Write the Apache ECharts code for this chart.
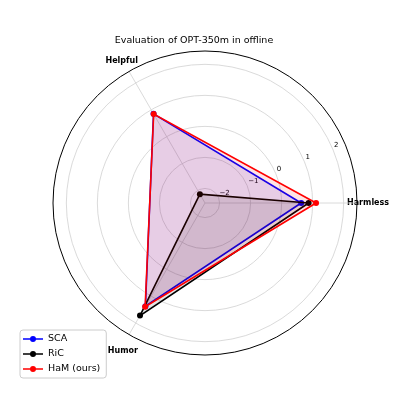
<!DOCTYPE html>
<html>
<head>
<meta charset="utf-8">
<script src="https://cdn.jsdelivr.net/npm/echarts@6/dist/echarts.min.js"></script>
<style>html,body{margin:0;padding:0;background:#fff;}#c{width:400px;height:400px;}</style>
</head>
<body>
<div id="c"></div>
<script>
const categories = ['Harmless', 'Helpful', 'Humor'];
const seriesNames = ['SCA', 'RiC', 'HaM (ours)'];
const sca = [0.63, 0.85, 1.37];
const ric = [0.87, -2.14, 1.72];
const ham = [1.11, 0.84, 1.39];
const radialTicks = [-2, -1, 0, 1, 2];
const rMin = -2.47, rMax = 2.43;

const CX = 205, CY = 203, R = 152;
const k = R / (rMax - rMin);
const FONT = 'DejaVu Sans';

// padding that moves a label by (dx, dy) whatever its alignment
function shift(dx, dy) { return [dy, -dx, -dy, dx]; }
const catShift = [shift(-22, 0), shift(15, 4), shift(15, 2)];

const colors = ['#0000ff', '#000000', '#ff0000'];
const allVals = [sca, ric, ham];
const legendIcon = 'path://M0,2.25H7.2V3.75H0Z M12.8,2.25H20V3.75H12.8Z M7,3A3,3 0 1,1 13,3A3,3 0 1,1 7,3Z';

const chart = echarts.init(document.getElementById('c'), null, {renderer: 'canvas'});
chart.setOption({
  animation: false,
  backgroundColor: '#fff',
  title: {
    text: 'Evaluation of OPT-350m in offline',
    left: 194, top: 36, textAlign: 'center', padding: 0,
    textStyle: {fontFamily: FONT, fontSize: 9.5, fontWeight: 'normal', color: '#000'}
  },
  legend: {
    orient: 'vertical', left: 20, top: 330,
    itemWidth: 20, itemHeight: 6, itemGap: 5,
    padding: [4, 6, 4, 3],
    borderColor: '#cccccc', borderWidth: 1, borderRadius: 3,
    textStyle: {fontFamily: FONT, fontSize: 9.5, color: '#000'},
    data: seriesNames.map(n => ({name: n, icon: legendIcon}))
  },
  polar: [
    {center: [CX, CY], radius: R},
    {center: [CX, CY], radius: [(radialTicks[0] - rMin) * k, (radialTicks[radialTicks.length - 1] - rMin) * k]},
    {center: [CX, CY], radius: R}
  ],
  angleAxis: [
    {
      polarIndex: 0, type: 'category', startAngle: 0, clockwise: false,
      data: categories.map((n, i) => ({value: n, textStyle: {padding: catShift[i]}})),
      boundaryGap: false,
      axisLine: {show: false},
      axisTick: {show: false},
      splitLine: {show: true, lineStyle: {color: '#d0d0d0', width: 0.8}},
      axisLabel: {margin: 12, fontFamily: FONT, fontSize: 8, fontWeight: 'bold', color: '#000'}
    },
    {
      polarIndex: 1, type: 'value', min: 0, max: 360, startAngle: 22.5, clockwise: false,
      show: false
    },
    {
      polarIndex: 2, type: 'value', min: 0, max: 360, startAngle: 0, clockwise: false,
      axisLine: {show: true, lineStyle: {color: '#000', width: 1}},
      axisTick: {show: false}, axisLabel: {show: false}, splitLine: {show: false}
    }
  ],
  radiusAxis: [
    {polarIndex: 0, type: 'value', min: rMin, max: rMax, show: false},
    {
      polarIndex: 1, type: 'value', min: radialTicks[0], max: radialTicks[radialTicks.length - 1], interval: 1,
      axisLine: {show: false}, axisTick: {show: false},
      splitLine: {show: true, lineStyle: {color: '#d0d0d0', width: 0.8}},
      axisLabel: {show: true, fontFamily: FONT, fontSize: 7, color: '#000', margin: 0,
        align: 'left', verticalAlign: 'bottom', padding: shift(1, -1),
        formatter: v => (v < 0 ? '\u2212' + Math.abs(v) : String(v))}
    },
    {polarIndex: 2, type: 'value', min: 0, max: 1, show: false}
  ],
  series: allVals.map((vals, s) => ({
    name: seriesNames[s], type: 'custom', coordinateSystem: 'polar', polarIndex: 0,
    z: 2 + s, silent: true,
    itemStyle: {color: colors[s]},
    data: [[vals[0], 0]],
    renderItem: function (params, api) {
      const pts = vals.map((v, j) => api.coord([v, j]));
      const children = [
        {type: 'polygon', shape: {points: pts}, style: {fill: colors[s], opacity: 0.1}},
        {type: 'polyline', shape: {points: pts.concat([pts[0]])},
          style: {stroke: colors[s], lineWidth: 1.6, fill: null, lineJoin: 'miter'}}
      ];
      pts.forEach(p => children.push({type: 'circle', shape: {cx: p[0], cy: p[1], r: 3}, style: {fill: colors[s]}}));
      return {type: 'group', children: children};
    }
  }))
});
</script>
</body>
</html>
